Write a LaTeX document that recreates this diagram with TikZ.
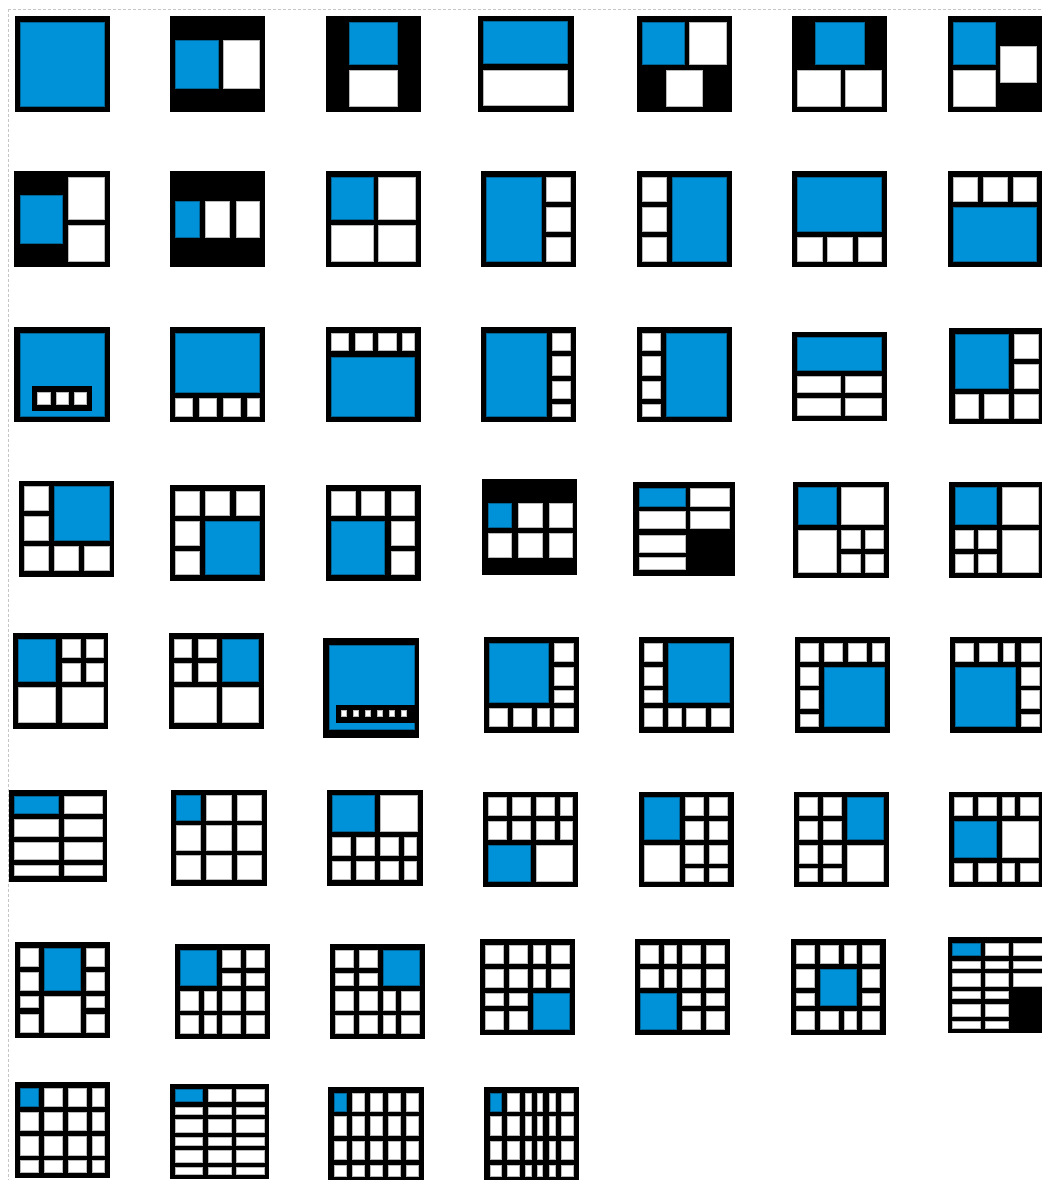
\documentclass[tikz,border=0pt]{standalone}
\definecolor{iconblue}{RGB}{0,146,216}
\newcommand\icF[2]{\path[fill=black] (0,0) rectangle (#1,#2);}
\newcommand\icW[4]{\path[wcell] (#1,#2) rectangle (#3,#4);}
\newcommand\icB[4]{\path[bcell] (#1,#2) rectangle (#3,#4);}
\newcommand\icK[4]{\path[fill=black] (#1,#2) rectangle (#3,#4);}
\begin{document}
\begin{tikzpicture}[x=0.5pt,y=-0.5pt,
  wcell/.style={fill=white,draw=gray!55,line width=0.3pt},
  bcell/.style={fill=iconblue,draw=iconblue!70!black,line width=0.3pt},
  guide/.style={gray!45,dash pattern=on 1.5pt off 1pt,line width=0.5pt}]
\useasboundingbox (0,0) rectangle (1042,1180);
\fill[white] (0,0) rectangle (1042,1180);
\coordinate (gtl) at (8,9);
\coordinate (gtr) at (1042,9);
\coordinate (gbl) at (8,1180);
\draw[guide] (gtl) -- (gtr);
\draw[guide] (gtl) -- (gbl);
% ---------------- row 1
\begin{scope}[shift={(14.6,16)}]\icF{95}{96}\icB{5.4}{6}{89.6}{90}\end{scope}
\begin{scope}[shift={(170,16)}]\icF{95}{96}\icB{5.4}{24}{48}{72}\icW{53}{24}{89}{72}\end{scope}
\begin{scope}[shift={(325.6,16)}]\icF{95}{96}\icB{24}{6}{71.4}{48}\icW{24}{54}{71.4}{90}\end{scope}
\begin{scope}[shift={(478,16)}]\icF{95.5}{96}\icB{5}{5}{89.5}{47}\icW{5}{54}{89.5}{89.5}\end{scope}
\begin{scope}[shift={(636.5,16)}]\icF{95}{96}\icB{5.5}{6}{48}{48}\icW{53.2}{6}{89.7}{48}\icW{30}{54}{65.8}{90}\end{scope}
\begin{scope}[shift={(792,16)}]\icF{95}{96}\icB{23.3}{6}{71.8}{48}\icW{5.3}{54}{48}{90}\icW{53.2}{54}{89.7}{90}\end{scope}
\begin{scope}[shift={(947.5,16)}]\icF{95}{96}\icB{6}{6}{47.8}{48}\icW{53.2}{30}{89}{66}\icW{6}{54}{47.8}{90}\end{scope}
% ---------------- row 2
\begin{scope}[shift={(14,171)}]\icF{96}{96}\icB{6.7}{24}{48.3}{72.3}\icW{54.3}{6.7}{90.3}{48.3}\icW{54.3}{54}{90.3}{90.7}\end{scope}
\begin{scope}[shift={(170,171.3)}]\icF{95}{96}\icB{5.4}{30}{29.3}{66}\icW{35.3}{30}{59.2}{66}\icW{65.9}{30}{89.1}{66}\end{scope}
\begin{scope}[shift={(325.6,171.3)}]\icF{95}{96}\icB{5.4}{6}{47.8}{48}\icW{53.1}{6}{89.7}{48}\icW{5.4}{54.4}{47.8}{89.7}\icW{53.1}{54.4}{89.7}{89.7}\end{scope}
\begin{scope}[shift={(481,171.3)}]\icF{95}{96}\icB{5.4}{6}{60}{89.7}
  \foreach \r/\s in {6/30,36/60,66/89.7}{\icW{65.2}{\r}{89}{\s}}\end{scope}
\begin{scope}[shift={(636.5,171.3)}]\icF{95}{96}\icB{36}{6}{89.7}{89.7}
  \foreach \r/\s in {6/30,36/60,66/89.7}{\icW{5.4}{\r}{30}{\s}}\end{scope}
\begin{scope}[shift={(792,171.3)}]\icF{95}{96}\icB{5.3}{6}{89.7}{60}
  \foreach \p/\q in {5.3/30,35.2/59.8,65.8/89.7}{\icW{\p}{66}{\q}{89.7}}\end{scope}
\begin{scope}[shift={(947.5,171.3)}]\icF{95}{96}\icB{6}{36}{89}{89.7}
  \foreach \p/\q in {6/30,36/59.8,65.8/89}{\icW{\p}{6}{\q}{30}}\end{scope}
% ---------------- row 3
\begin{scope}[shift={(14,327.3)}]\icF{96}{95}\icB{6.7}{6}{90.3}{89.4}\icK{18.3}{58.7}{78.3}{83.4}
  \foreach \p/\q in {23.7/36,42/54.3,60/72.7}{\icW{\p}{65.4}{\q}{77}}\end{scope}
\begin{scope}[shift={(170,327.3)}]\icF{95}{95}\icB{5.4}{6}{89.1}{65}
  \foreach \p/\q in {5.4/22.7,29.3/46.6,53.3/70.5,77.2/89.1}{\icW{\p}{71}{\q}{89}}\end{scope}
\begin{scope}[shift={(325.6,327.3)}]\icF{95}{95}\icB{5.4}{30}{89}{89}
  \foreach \p/\q in {5.4/22.6,29.2/46.5,53.1/70.4,77.1/89}{\icW{\p}{6}{\q}{23.4}}\end{scope}
\begin{scope}[shift={(481,327.3)}]\icF{95}{95}\icB{5.4}{6}{65.2}{89}
  \foreach \r/\s in {6/23.4,29.4/47.7,53.7/71.4,77.4/89}{\icW{71.2}{\r}{89.1}{\s}}\end{scope}
\begin{scope}[shift={(636.5,327.3)}]\icF{95}{95}\icB{29.9}{6}{89.7}{89}
  \foreach \r/\s in {6/23.4,29.4/47.7,53.7/71.4,77.4/89}{\icW{5.4}{\r}{24}{\s}}\end{scope}
\begin{scope}[shift={(792,332.3)}]\icF{95}{89}\icB{5.3}{5}{89.7}{37.7}
  \foreach \r/\s in {43.7/60.4,65.7/82.7}{\icW{5.3}{\r}{48}{\s}\icW{53.2}{\r}{89.7}{\s}}\end{scope}
\begin{scope}[shift={(948.8,328.3)}]\icF{95}{96}\icB{6}{6}{59.2}{60}
  \icW{65.8}{6}{89.7}{30}\icW{65.8}{36}{89.7}{60}
  \foreach \p/\q in {6/29.2,35.9/59.2,65.8/89.7}{\icW{\p}{66}{\q}{90}}\end{scope}
% ---------------- row 4
\begin{scope}[shift={(18.6,481)}]\icF{95.7}{95.7}\icB{35.9}{5.7}{90.4}{59.7}
  \icW{6}{5.7}{29.9}{29.7}\icW{6}{35.7}{29.9}{59.7}
  \foreach \p/\q in {6/29.9,35.9/59.8,65.8/90.4}{\icW{\p}{65.7}{\q}{89.7}}\end{scope}
\begin{scope}[shift={(170,485.3)}]\icF{95}{95.4}\icB{35.3}{35.7}{89.1}{89.4}
  \foreach \p/\q in {5.4/29.3,35.3/59.2,65.9/89.1}{\icW{\p}{6}{\q}{29.7}}
  \icW{5.4}{35.7}{29.3}{60}\icW{5.4}{65.7}{29.3}{89.4}\end{scope}
\begin{scope}[shift={(325.6,485.3)}]\icF{95}{95.4}\icB{5.4}{35.7}{59.1}{89.4}
  \foreach \p/\q in {5.4/29.3,35.3/59.1,65.8/89}{\icW{\p}{6}{\q}{29.7}}
  \icW{65.8}{35.7}{89}{60}\icW{65.8}{65.7}{89}{89.4}\end{scope}
\begin{scope}[shift={(482.4,479.3)}]\icF{95}{95.4}
  \foreach \p/\q in {6/29.2,35.9/59.8,66.4/89.7}{\icW{\p}{24}{\q}{48}\icW{\p}{54}{\q}{78}}
  \icB{6}{24}{29.2}{48}\end{scope}
\begin{scope}[shift={(633.3,482.3)}]\icF{101.7}{93.4}
  \icB{5.7}{6}{51.7}{23.7}\icW{56.7}{6}{96}{23.7}
  \icW{5.7}{28.7}{51.7}{46}\icW{56.7}{28.7}{96}{46}
  \icW{5.7}{52.7}{51.7}{70}\icW{5.7}{75.4}{51.7}{86.7}\end{scope}
\begin{scope}[shift={(793.4,482.3)}]\icF{95.6}{96}
  \icB{5.3}{5.4}{42.5}{41.7}\icW{47.8}{5.4}{90.3}{41.7}\icW{5.3}{47.7}{42.5}{90}
  \foreach \p/\q in {47.8/66.4,71.7/90.3}{\icW{\p}{47.7}{\q}{66}\icW{\p}{71.7}{\q}{90}}\end{scope}
\begin{scope}[shift={(948.8,482.3)}]\icF{95}{96}
  \icB{6}{5.4}{47.9}{41.7}\icW{53.2}{5.4}{89.7}{41.7}\icW{53.2}{47.7}{89.7}{90}
  \foreach \p/\q in {6/24,29.9/47.9}{\icW{\p}{47.7}{\q}{66}\icW{\p}{71.7}{\q}{90}}\end{scope}
% ---------------- row 5
\begin{scope}[shift={(13.3,633.3)}]\icF{94.3}{95.7}\icB{5}{6}{42}{47.7}
  \foreach \p/\q in {48.6/66.5,72.6/90}{\icW{\p}{6}{\q}{24}\icW{\p}{30}{\q}{47.7}}
  \icW{5}{53.7}{42}{89}\icW{48.6}{53.7}{90}{89}\end{scope}
\begin{scope}[shift={(168.8,633.3)}]\icF{95}{95.7}\icB{53.8}{6}{89}{47.7}
  \foreach \p/\q in {5.2/22.6,29.2/47.2}{\icW{\p}{6}{\q}{24}\icW{\p}{30}{\q}{47.7}}
  \icW{5.2}{53.7}{47.2}{89}\icW{53.8}{53.7}{89}{89}\end{scope}
\begin{scope}[shift={(323.3,638.3)}]\icF{95.7}{100}\icB{5.7}{6.7}{90.7}{91}\icK{12.4}{66.7}{95.7}{84.4}
  \foreach \i in {0,...,5}{\icW{18.4+12*\i}{71.7}{23.4+12*\i}{77.7}}\end{scope}
\begin{scope}[shift={(483.7,637.3)}]\icF{95.7}{96}\icB{6}{6}{65}{65.4}
  \foreach \r/\s in {6/23.7,30/47.7,53.3/65.4}{\icW{71}{\r}{89.7}{\s}}
  \foreach \p/\q in {6/24,30/48,54/66,71/89.7}{\icW{\p}{71}{\q}{89.4}}\end{scope}
\begin{scope}[shift={(639.2,637.3)}]\icF{95}{96}\icB{29.2}{6}{89.8}{65.4}
  \foreach \r/\s in {6/23.7,30/47.7,53.3/65.4}{\icW{5.3}{\r}{23.3}{\s}}
  \foreach \p/\q in {5.3/23.3,29.2/41.8,47.2/65.8,71.8/89.8}{\icW{\p}{71}{\q}{89.4}}\end{scope}
\begin{scope}[shift={(795.4,637.3)}]\icF{95}{96}\icB{29.2}{30}{89}{89.4}
  \foreach \p/\q in {5.3/23.2,29.2/47.1,53.1/71,77/89}{\icW{\p}{6}{\q}{24}}
  \foreach \r/\s in {30/47.7,53.3/71.3,77.3/89.4}{\icW{5.3}{\r}{23.2}{\s}}\end{scope}
\begin{scope}[shift={(950.2,637.3)}]\icF{95}{96}\icB{5.3}{30}{65.1}{89.4}
  \foreach \p/\q in {5.3/23.2,29.2/47.1,53.1/64.4,70.8/89.5}{\icW{\p}{6}{\q}{24}}
  \foreach \r/\s in {30/47.7,53.3/71.3,77.3/89.4}{\icW{70.8}{\r}{89.5}{\s}}\end{scope}
% ---------------- row 6
\begin{scope}[shift={(9.3,790)}]\icF{97.7}{91.7}
  \foreach \r/\s in {6.7/23.3,29.3/46,52.7/69.3,75/85}{\icW{5.3}{\r}{49.2}{\s}\icW{55.2}{\r}{93}{\s}}
  \icB{5.3}{6.7}{49.2}{23.3}\end{scope}
\begin{scope}[shift={(171.4,790)}]\icF{95.7}{96}
  \foreach \p/\q in {5.3/29.3,35.2/59.8,65.8/89.7}{\foreach \r/\s in {5.7/30,35.7/60,65.7/89.3}{\icW{\p}{\r}{\q}{\s}}}
  \icB{5.3}{5.7}{29.3}{30}\end{scope}
\begin{scope}[shift={(327,790)}]\icF{95.6}{96}\icB{5.2}{5.7}{47.1}{41.7}\icW{53}{5.7}{90.3}{41.7}
  \foreach \p/\q in {5.2/23.2,29.1/47.1,53/71,77/89.6}{\icW{\p}{47.3}{\q}{65.7}\icW{\p}{71.3}{\q}{89.3}}\end{scope}
\begin{scope}[shift={(483,791.7)}]\icF{95}{95.6}
  \foreach \p/\q in {5.4/23.3,29.3/47.2,53.2/71.2,77.1/89.1}{\icW{\p}{5.6}{\q}{23.6}\icW{\p}{29.6}{\q}{47.6}}
  \icB{5.4}{53.6}{47.2}{89.3}\icW{53.2}{53.6}{89.1}{89.3}\end{scope}
\begin{scope}[shift={(638.5,791.7)}]\icF{95}{95.6}\icB{5.4}{5.6}{41.2}{47.6}\icW{5.4}{53.6}{41.2}{89.3}
  \foreach \p/\q in {47.2/65.2,71.1/89.1}{\foreach \r/\s in {5.6/23.6,29.6/47.6,53.6/71.3,77/89.3}{\icW{\p}{\r}{\q}{\s}}}\end{scope}
\begin{scope}[shift={(794,791.7)}]\icF{95}{95.6}\icB{53.2}{5.6}{89.7}{47.6}\icW{53.2}{53.6}{89.7}{89.3}
  \foreach \p/\q in {5.3/23.3,29.3/47.2}{\foreach \r/\s in {5.6/23.6,29.6/47.6,53.6/71.3,77/89.3}{\icW{\p}{\r}{\q}{\s}}}\end{scope}
\begin{scope}[shift={(948.8,791.7)}]\icF{95}{95.6}\icB{5.4}{29.6}{47.2}{65.3}\icW{53.2}{29.6}{89.5}{65.3}
  \foreach \p/\q in {5.4/23.3,29.3/47.2,53.2/65.2,71.2/89.5}{\icW{\p}{5.6}{\q}{23.6}\icW{\p}{71.3}{\q}{89.3}}\end{scope}
% ---------------- row 7
\begin{scope}[shift={(14.6,942.3)}]\icF{95}{96}
  \foreach \r/\s in {6/23.7,30/47.7,53.7/65.4,72/89.7}{\icW{5.4}{\r}{23.3}{\s}\icW{71.8}{\r}{89.7}{\s}}
  \icB{29.9}{6}{65.8}{47.7}\icW{29.9}{53.7}{65.8}{89.7}\end{scope}
\begin{scope}[shift={(174.8,944)}]\icF{95}{95.3}\icB{5.2}{6}{41.2}{41}
  \foreach \p/\q in {47.2/65.2,71/89}{\icW{\p}{6}{\q}{23.7}\icW{\p}{29.7}{\q}{41}}
  \foreach \p/\q in {5.2/23.2,29.2/41.2,47.2/65.2,71/89}{\icW{\p}{47.7}{\q}{66}\icW{\p}{71.3}{\q}{89.3}}\end{scope}
\begin{scope}[shift={(330.2,944)}]\icF{95}{95.3}\icB{53.2}{6}{89.1}{41}
  \foreach \p/\q in {5.3/23.3,29.3/47.2}{\icW{\p}{6}{\q}{23.7}\icW{\p}{29.7}{\q}{41}}
  \foreach \p/\q in {5.3/23.3,29.3/47.2,53.2/65.1,71.1/89.1}{\icW{\p}{47.7}{\q}{66}\icW{\p}{71.3}{\q}{89.3}}\end{scope}
\begin{scope}[shift={(479.7,939.3)}]\icF{95}{96}
  \foreach \p/\q in {5.3/23.3,29.3/47.3,53.3/65.3,71.1/89.1}{\icW{\p}{6}{\q}{24}\icW{\p}{30}{\q}{48}}
  \foreach \p/\q in {5.3/23.3,29.3/47.3}{\icW{\p}{54}{\q}{66}\icW{\p}{72}{\q}{90}}
  \icB{53.3}{54}{89.1}{90}\end{scope}
\begin{scope}[shift={(635.2,939.3)}]\icF{95}{96}
  \foreach \p/\q in {5.3/23.3,29.3/41.2,47.2/65.1,71.1/89.1}{\icW{\p}{6}{\q}{24}\icW{\p}{30}{\q}{48}}
  \foreach \p/\q in {47.2/65.1,71.1/89.1}{\icW{\p}{54}{\q}{66}\icW{\p}{72}{\q}{90}}
  \icB{5.3}{54}{41.2}{90}\end{scope}
\begin{scope}[shift={(790.7,939.3)}]\icF{95}{96}
  \foreach \p/\q in {5.3/23.3,29.3/47.3,53.2/65.1,71.1/89}{\icW{\p}{6}{\q}{24}\icW{\p}{72}{\q}{90}}
  \foreach \r/\s in {30/48,54/66}{\icW{5.3}{\r}{23.3}{\s}\icW{71.1}{\r}{89}{\s}}
  \icB{29.3}{30}{65.1}{66}\end{scope}
\begin{scope}[shift={(947.5,937.3)}]\icF{100}{96}
  \foreach \r/\s in {6/18,24.4/31,36/48.7}{\foreach \p/\q in {4.7/32.5,37.9/60.5,65.8/94.5}{\icW{\p}{\r}{\q}{\s}}}
  \foreach \r/\s in {54.4/61,66.7/78.7,84.4/91}{\foreach \p/\q in {4.7/32.5,37.9/60.5}{\icW{\p}{\r}{\q}{\s}}}
  \icB{4.7}{6}{32.5}{18}\end{scope}
% ---------------- row 8
\begin{scope}[shift={(14.6,1082.3)}]\icF{95}{96}
  \foreach \p/\q in {5.4/23.3,29.9/47.9,53.8/71.8,77.8/89.7}{\foreach \r/\s in {6/24.4,30/48.4,54/72.7,78.4/90}{\icW{\p}{\r}{\q}{\s}}}
  \icB{5.4}{6}{23.3}{24.4}\end{scope}
\begin{scope}[shift={(170,1084)}]\icF{99}{95}
  \foreach \p/\q in {5.4/32.7,38.6/61.2,65.9/94.5}{\foreach \r/\s in {5/17.7,23.7/30.3,35.3/48.3,53.3/61,66/78.3,83.7/90.3}{\icW{\p}{\r}{\q}{\s}}}
  \icB{5.4}{5}{32.7}{17.7}\end{scope}
\begin{scope}[shift={(328.3,1086.7)}]\icF{95.7}{96}
  \foreach \p/\q in {5.7/17.7,24/36,41.7/54,60/71.7,77.7/90}{\foreach \r/\s in {6.6/24.3,30/48.3,54.3/72.3,78.3/90}{\icW{\p}{\r}{\q}{\s}}}
  \icB{5.7}{6.6}{17.7}{24.3}\end{scope}
\begin{scope}[shift={(484,1086.7)}]\icF{95.3}{96}
  \foreach \p/\q in {6/17.7,23.7/35.3,41.7/47,53.3/58.7,65.3/71,77.3/89.3}{\foreach \r/\s in {6.6/24.3,30/48.3,54.3/72.3,78.3/90}{\icW{\p}{\r}{\q}{\s}}}
  \icB{6}{6.6}{17.7}{24.3}\end{scope}
\end{tikzpicture}
\end{document}
